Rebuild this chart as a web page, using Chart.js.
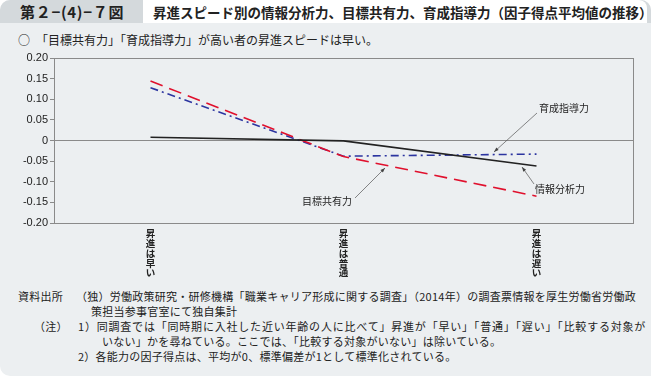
<!DOCTYPE html>
<html lang="ja">
<head>
<meta charset="utf-8">
<script src="https://cdn.jsdelivr.net/npm/chart.js@4/dist/chart.umd.min.js"></script>
<style>
  html, body { margin: 0; padding: 0; }
  body { width: 651px; height: 376px; background: #fff; font-family: "Noto Sans CJK JP", sans-serif; }
  .frame { position: absolute; left: 0; top: 0; width: 651px; height: 376px; background: #eceff1; border-radius: 10px 10px 0 10px; overflow: hidden; }
  .head { position: absolute; left: 0; top: 0; width: 651px; height: 23px; background: #d4d9dc; }
  .tab { position: absolute; left: 20px; top: 1px; font-size: 15px; font-weight: bold; color: #222; line-height: 21px; letter-spacing: 0.7px; }
  .ttl { position: absolute; left: 143px; top: 0; width: 504px; height: 23px; background: #fff; border-radius: 0 8px 0 0; }
  .ttl span { position: absolute; left: 10px; top: 2px; font-size: 13.5px; font-weight: bold; color: #222; line-height: 20px; white-space: nowrap; }
  .lead { position: absolute; left: 18px; top: 31px; font-size: 12px; color: #222; white-space: nowrap; }
  .wrap { position: absolute; left: 0; top: 48px; width: 651px; height: 240px; }
  .note { position: absolute; font-size: 11px; color: #222; white-space: nowrap; line-height: 14px; letter-spacing: 0.25px; }
</style>
</head>
<body>
<div class="frame">
  <div class="head"></div>
  <div class="tab">第２−(4)−７図</div>
  <div class="ttl"><span>昇進スピード別の情報分析力、目標共有力、育成指導力（因子得点平均値の推移）</span></div>
  <div class="lead">○　「目標共有力」「育成指導力」が高い者の昇進スピードは早い。</div>
  <div class="wrap"><canvas id="c" width="651" height="240"></canvas></div>
  <div class="note" style="left:18px;top:289px">資料出所</div>
  <div class="note" style="left:76px;top:289px">（独）労働政策研究・研修機構「職業キャリア形成に関する調査」（2014年）の調査票情報を厚生労働省労働政</div>
  <div class="note" style="left:91px;top:304px">策担当参事官室にて独自集計</div>
  <div class="note" style="left:34px;top:319px">（注）</div>
  <div class="note" style="left:78px;top:319px;letter-spacing:0.8px">1）同調査では「同時期に入社した近い年齢の人に比べて」昇進が「早い」「普通」「遅い」「比較する対象が</div>
  <div class="note" style="left:102px;top:334px">いない」かを尋ねている。ここでは、「比較する対象がいない」は除いている。</div>
  <div class="note" style="left:78px;top:349px">2）各能力の因子得点は、平均が0、標準偏差が1として標準化されている。</div>
</div>
<script>
// ── データ ─────────────────────────────
const categories = [['昇','進','は','早','い'], ['昇','進','は','普','通'], ['昇','進','は','遅','い']];
const jouhou  = [0.008, -0.001, -0.062];   // 情報分析力
const mokuhyo = [0.144, -0.039, -0.135];   // 目標共有力
const ikusei  = [0.128, -0.038, -0.033];   // 育成指導力
const yTicks  = [0.20, 0.15, 0.10, 0.05, 0, -0.05, -0.10, -0.15, -0.20];

const fmtTick = v => Math.abs(v) < 1e-9 ? '0' : v.toFixed(2);

// 枠線と引き出し線
const extras = {
  id: 'extras',
  afterDraw(chart) {
    const { ctx, chartArea: a } = chart;
    ctx.save();
    ctx.strokeStyle = '#8a8a8a';
    ctx.lineWidth = 1;
    ctx.strokeRect(a.left + 0.5, a.top + 0.5, a.right - a.left, a.bottom - a.top);

    const leader = (tx, ty, px, py, text, lx, ly) => {
      ctx.strokeStyle = '#555';
      ctx.lineWidth = 0.7;
      ctx.beginPath(); ctx.moveTo(tx, ty); ctx.lineTo(px, py); ctx.stroke();
      const ang = Math.atan2(py - ty, px - tx);
      ctx.fillStyle = '#444';
      ctx.beginPath();
      ctx.moveTo(px, py);
      ctx.lineTo(px - 5 * Math.cos(ang - 0.35), py - 5 * Math.sin(ang - 0.35));
      ctx.lineTo(px - 5 * Math.cos(ang + 0.35), py - 5 * Math.sin(ang + 0.35));
      ctx.closePath(); ctx.fill();
      ctx.fillStyle = '#222';
      ctx.font = '10px "Noto Sans CJK JP"';
      ctx.textBaseline = 'middle';
      ctx.fillText(text, lx, ly);
    };
    leader(537, 113 - 48, 494, 152 - 48, '育成指導力', 539, 108 - 48);
    leader(534, 184 - 48, 522, 167 - 48, '情報分析力', 535, 189 - 48);
    leader(355, 198 - 48, 385, 168 - 48, '目標共有力', 302, 201 - 48);
    ctx.restore();
  }
};

new Chart(document.getElementById('c'), {
  type: 'line',
  data: {
    labels: categories,
    datasets: [
      { label: '情報分析力', data: jouhou, borderColor: '#222', borderWidth: 1.6, pointRadius: 0, tension: 0 },
      { label: '目標共有力', data: mokuhyo, borderColor: '#e0102d', borderWidth: 1.6, borderDash: [13, 7], pointRadius: 0, tension: 0 },
      { label: '育成指導力', data: ikusei, borderColor: '#2c35a0', borderWidth: 1.6, borderDash: [8, 4, 2, 4], pointRadius: 0, tension: 0 }
    ]
  },
  plugins: [extras],
  options: {
    responsive: false,
    animation: false,
    events: [],
    layout: { padding: { left: 0, right: 18, top: 10, bottom: 0 } },
    plugins: { legend: { display: false }, tooltip: { enabled: false } },
    scales: {
      x: {
        offset: true,
        afterFit: s => { s.height = 65; },
        grid: { display: false, drawTicks: false },
        border: { display: false },
        ticks: {
          color: '#222', padding: 5, maxRotation: 0, autoSkip: false,
          font: { family: '"Noto Sans CJK JP"', size: 9.5, weight: 'bold', lineHeight: 1.05 }
        }
      },
      y: {
        min: -0.2, max: 0.2,
        afterFit: s => { s.width = 54; },
        afterBuildTicks: s => { s.ticks = yTicks.map(v => ({ value: v })); },
        border: { display: false },
        grid: {
          color: c => (c.tick && Math.abs(c.tick.value) < 1e-9) ? '#8a8a8a' : 'rgba(0,0,0,0)',
          tickColor: '#8a8a8a', tickLength: 4, drawTicks: true, lineWidth: 1
        },
        ticks: {
          color: '#222', padding: 2,
          font: { family: '"Liberation Sans", Arial, sans-serif', size: 11 },
          callback: v => fmtTick(v)
        }
      }
    }
  }
});
</script>
</body>
</html>
